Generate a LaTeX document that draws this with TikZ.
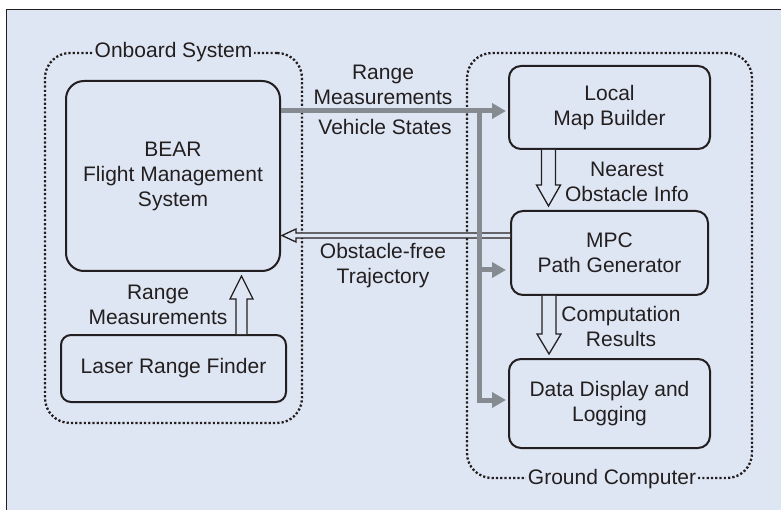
\documentclass[tikz,border=0pt]{standalone}
\usepackage{fontspec}
\setmainfont{Liberation Sans}
\usetikzlibrary{arrows.meta}
\definecolor{panel}{RGB}{223,230,243}
\definecolor{feedgray}{RGB}{133,139,145}
\definecolor{ink}{RGB}{35,31,32}
\tikzset{
	block/.style = {
		draw=ink,
		text=ink,
		line width=2pt,
		rounded corners=12pt,
		align=center,
		inner sep=0pt
	},
	block_big/.style = {
		block,
		rounded corners=18pt,
		minimum width=214pt,
		minimum height=190pt
	},
	block_low/.style = {
		block,
		rounded corners=10pt,
		minimum width=225pt,
		minimum height=67pt
	},
	block_gc/.style = {
		block,
		minimum width=201pt,
		minimum height=84pt
	},
	group/.style = {
		draw=ink,
		line width=2.3pt,
		dash pattern=on 2.2pt off 2.1pt,
		rounded corners=25pt
	},
	group_label/.style = {
		fill=panel,
		text=ink,
		inner xsep=2pt,
		inner ysep=0pt
	},
	label_text/.style = {
		text=ink,
		align=center,
		inner sep=0pt
	},
	feed/.style = {
		draw=feedgray,
		line width=5pt,
		-{Triangle[length=14pt,width=15pt]}
	},
	hollow/.style = {
		draw=ink,
		fill=panel,
		line width=1.3pt
	}
}

\begin{document}
\begin{tikzpicture}[x=1pt, y=-1pt, font=\fontsize{21}{25}\selectfont]
\useasboundingbox (0,0) rectangle (781,510);
\clip (0,0) rectangle (781,510);
\draw[fill=panel, draw=ink, line width=1pt] (6,10) rectangle (800,530);

% onboard side
\node[group, minimum width=257pt, minimum height=370pt] (onboard) at (173.5,238) {};
\node[group_label] (onboard_lbl) at (onboard.north) {Onboard System};
\node[block_big] (bear) at (173,176) {BEAR\\Flight Management\\System};
\node[block_low] (lrf) at (173.5,368.5) {Laser Range Finder};

% ground side
\node[group, minimum width=285pt, minimum height=425pt] (ground) at (609.5,265.5) {};
\node[group_label] (ground_lbl) at ([xshift=2.5pt]ground.south) {Ground Computer};
\node[block_gc, minimum height=83pt] (lmb) at (609.5,107.5) {Local\\Map Builder};
\node[block_gc, minimum width=197pt] (mpc) at (609.5,253) {MPC\\Path Generator};
\node[block_gc, minimum height=89pt] (ddl) at (609.5,403.5) {Data Display and\\Logging};

% hollow arrows
\draw[hollow] ([xshift=62.5pt]lrf.north) -- ++(0,-35) -- ++(-6,0) -- ++(11.5,-23)
	-- ++(11.5,23) -- ++(-6,0) -- ++(0,35);
\draw[hollow] ([xshift=-68pt]lmb.south) -- ++(0,35) -- ++(-5,0) -- ++(12,21)
	-- ++(12,-21) -- ++(-5,0) -- ++(0,-35);
\draw[hollow] ([xshift=-67.5pt]mpc.south) -- ++(0,38) -- ++(-5,0) -- ++(12,20)
	-- ++(12,-20) -- ++(-5,0) -- ++(0,-38);
\draw[hollow] ([yshift=20pt]mpc.west) -- ++(-214,0) -- ++(0,-4) -- ++(-14,6.5)
	-- ++(14,6.5) -- ++(0,-4) -- ++(214,0);

% measurements and states
\coordinate (split) at ([xshift=198pt, yshift=65pt]bear.east);
\draw[feed, shorten >=2pt] ([yshift=65pt]bear.east) -- ([yshift=65pt]bear.east -| lmb.west);
\draw[feed, shorten >=2pt] (split) |- ([yshift=3.5pt]ddl.west);
\draw[feed, shorten >=4pt] (split |- 0,270) -- (mpc.west |- 0,270);

% labels
\node[label_text] (rm_top) at (383,84.5) {Range\\Measurements};
\node[label_text] (vs) at (385,127) {Vehicle States};
\node[label_text] (oft) at (383,265.5) {Obstacle-free\\Trajectory};
\node[label_text] (noi) at (627,181.5) {Nearest\\Obstacle Info};
\node[label_text] (cr) at (621,326) {Computation\\Results};
\node[label_text] (rm_low) at (158,304.5) {Range\\Measurements};
\end{tikzpicture}
\end{document}
